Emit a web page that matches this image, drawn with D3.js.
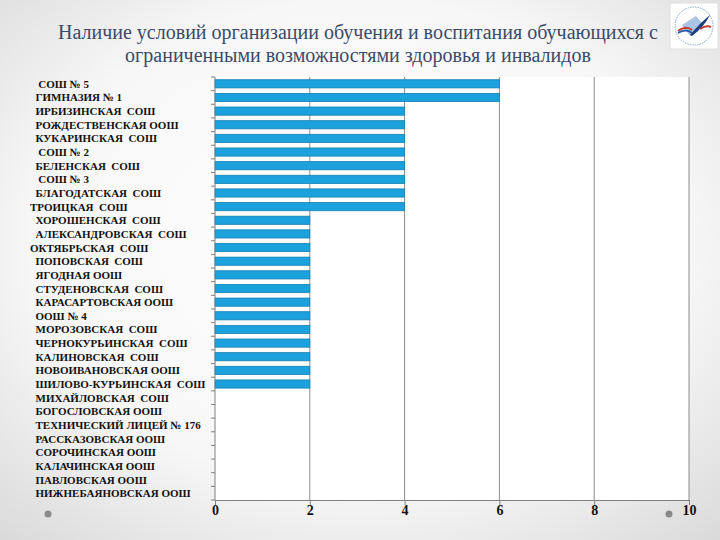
<!DOCTYPE html>
<html><head><meta charset="utf-8">
<script src="https://cdn.jsdelivr.net/npm/d3@7"></script>
<style>
html,body{margin:0;padding:0;width:720px;height:540px;overflow:hidden;}
</style></head>
<body><svg id="c" width="720" height="540"></svg>
<script>
const categories = [
  "   СОШ № 5","  ГИМНАЗИЯ № 1","  ИРБИЗИНСКАЯ  СОШ","  РОЖДЕСТВЕНСКАЯ ООШ","  КУКАРИНСКАЯ  СОШ",
  "   СОШ № 2","  БЕЛЕНСКАЯ  СОШ","   СОШ № 3","  БЛАГОДАТСКАЯ  СОШ","ТРОИЦКАЯ  СОШ",
  "  ХОРОШЕНСКАЯ  СОШ","  АЛЕКСАНДРОВСКАЯ  СОШ","ОКТЯБРЬСКАЯ  СОШ","  ПОПОВСКАЯ  СОШ","  ЯГОДНАЯ ООШ",
  "  СТУДЕНОВСКАЯ  СОШ","  КАРАСАРТОВСКАЯ ООШ","  ООШ № 4","  МОРОЗОВСКАЯ  СОШ","  ЧЕРНОКУРЬИНСКАЯ  СОШ",
  "  КАЛИНОВСКАЯ  СОШ","  НОВОИВАНОВСКАЯ ООШ","  ШИЛОВО-КУРЬИНСКАЯ  СОШ","  МИХАЙЛОВСКАЯ  СОШ","  БОГОСЛОВСКАЯ ООШ",
  "  ТЕХНИЧЕСКИЙ ЛИЦЕЙ № 176","  РАССКАЗОВСКАЯ ООШ","  СОРОЧИНСКАЯ ООШ","  КАЛАЧИНСКАЯ ООШ","  ПАВЛОВСКАЯ ООШ",
  "  НИЖНЕБАЯНОВСКАЯ ООШ"
];
const values = [6,6,4,4,4,4,4,4,4,4,2,2,2,2,2,2,2,2,2,2,2,2,2,0,0,0,0,0,0,0,0];
const xTicks = [0,2,4,6,8,10];
const titleLines = ["Наличие условий организации обучения и воспитания обучающихся с","ограниченными возможностями здоровья и инвалидов"];

const FONT = "\"Liberation Serif\"";
const svg = d3.select("#c");
const defs = svg.append("defs");
const bg = defs.append("radialGradient").attr("id","bg").attr("cx","50%").attr("cy","45%").attr("r","75%");
bg.append("stop").attr("offset","0%").attr("stop-color","#ffffff");
bg.append("stop").attr("offset","60%").attr("stop-color","#f7f7f7");
bg.append("stop").attr("offset","100%").attr("stop-color","#d9d9d9");
svg.append("rect").attr("width",720).attr("height",540).attr("fill","url(#bg)");

// title
svg.append("g").selectAll("text").data(titleLines).join("text")
  .attr("x",358).attr("y",(d,i)=>39+i*23).attr("text-anchor","middle")
  .style("font-family",FONT).attr("font-size",20).attr("fill","#3b4a6b").text(d=>d);

// logo
const lg = svg.append("g").attr("transform","translate(670,3)");
lg.append("rect").attr("width",48).attr("height",46).attr("fill","#fff").attr("stroke","#e0e0e0");
lg.append("circle").attr("cx",24).attr("cy",23).attr("r",19).attr("fill","none").attr("stroke","#8aa6c8").attr("stroke-width",1).attr("stroke-dasharray","1.5,1");
lg.append("path").attr("d","M12,22 L26,13 L34,22 L20,33 Z").attr("fill","#a9c4e4");
lg.append("path").attr("d","M8,28 Q16,22 22,27").attr("stroke","#c0392b").attr("stroke-width",2).attr("fill","none");
lg.append("path").attr("d","M8,30 Q16,25 22,30").attr("stroke","#2a5ca8").attr("stroke-width",2).attr("fill","none");
lg.append("path").attr("d","M20,32 Q30,20 40,12 Q34,24 22,33 Z").attr("fill","#1c3d7a");
lg.append("path").attr("d","M30,26 Q36,22 41,24").attr("stroke","#c0392b").attr("stroke-width",2).attr("fill","none");

const m = {left:215, right:689, top:77, bottom:500};
svg.append("rect").attr("x",m.left).attr("y",m.top).attr("width",m.right-m.left).attr("height",m.bottom-m.top).attr("fill","#ffffff");

const x = d3.scaleLinear().domain([0,10]).range([m.left,m.right]);
const y = d3.scaleBand().domain(d3.range(categories.length)).range([m.top,m.bottom]).paddingInner(0.4).paddingOuter(0.2);

// gridlines
svg.append("g").selectAll("line").data(xTicks.slice(1)).join("line")
  .attr("x1",d=>x(d)).attr("x2",d=>x(d)).attr("y1",m.top).attr("y2",m.bottom)
  .attr("stroke","#8c8c8c").attr("stroke-width",1);

// bars
svg.append("g").selectAll("rect").data(values).join("rect")
  .attr("x",x(0)).attr("y",(d,i)=>y(i)).attr("width",d=>x(d)-x(0)).attr("height",y.bandwidth())
  .attr("fill","#1ba1dc").attr("stroke","#1580b3").attr("stroke-width",0.8);

// y axis line with ticks between categories
const step = (m.bottom-m.top)/categories.length;
svg.append("line").attr("x1",m.left).attr("x2",m.left).attr("y1",m.top).attr("y2",m.bottom).attr("stroke","#808080");
svg.append("g").selectAll("line").data(d3.range(categories.length+1)).join("line")
  .attr("x1",m.left-4).attr("x2",m.left).attr("y1",i=>m.top+i*step).attr("y2",i=>m.top+i*step)
  .attr("stroke","#808080");

// category labels
svg.append("g").selectAll("text").data(categories).join("text")
  .attr("x",30).attr("y",(d,i)=>y(i)+y.bandwidth()/2+4)
  .style("font-family",FONT).attr("font-size",11).attr("font-weight","bold")
  .attr("fill","#111").style("white-space","pre").attr("xml:space","preserve").text(d=>d);

// x axis
const xa = svg.append("g").attr("transform",`translate(0,${m.bottom})`)
  .call(d3.axisBottom(x).tickValues(xTicks).tickSize(5).tickSizeOuter(0).tickFormat(d3.format("d")));
xa.select(".domain").attr("stroke","#808080").attr("stroke-width",1.2);
xa.selectAll(".tick line").attr("stroke","#808080");
xa.selectAll(".tick text").style("font-family",FONT).attr("font-size",14).attr("font-weight","bold").attr("fill","#111").attr("dy","0.5em");

// decorative dots
svg.append("circle").attr("cx",48).attr("cy",514).attr("r",3.5).attr("fill","#8a8a8a");
svg.append("circle").attr("cx",669).attr("cy",514).attr("r",3.5).attr("fill","#8a8a8a");
</script></body></html>
